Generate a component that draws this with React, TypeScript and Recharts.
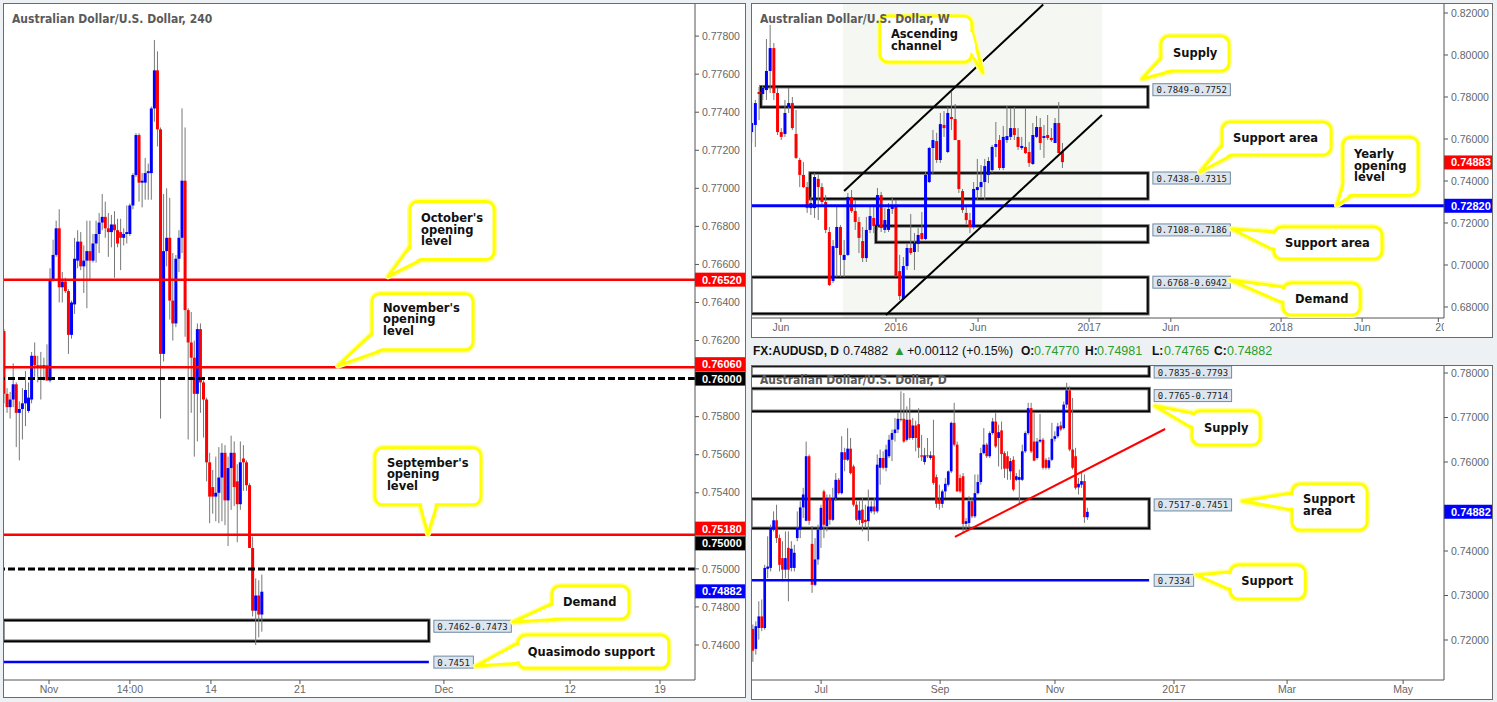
import React from "react";
import { ComposedChart, Bar, XAxis, YAxis, ReferenceLine, ReferenceArea, ReferenceDot } from "recharts";

type OHLC = [number, number, number, number];

// 4H candles: open, high, low, close
const h4Ohlc: OHLC[] = [
  [0.7625, 0.7626, 0.7587, 0.7592], [0.7592, 0.7595, 0.7582, 0.7585], [0.7585, 0.7593, 0.7579, 0.7589],
  [0.7589, 0.7608, 0.7585, 0.7597], [0.7597, 0.7598, 0.7564, 0.7582], [0.7582, 0.7588, 0.7557, 0.7584],
  [0.7584, 0.7595, 0.7568, 0.7587], [0.7587, 0.7604, 0.7575, 0.7594], [0.7583, 0.7598, 0.7582, 0.759],
  [0.7589, 0.7614, 0.7587, 0.7612], [0.7612, 0.7619, 0.7601, 0.7607], [0.7607, 0.7612, 0.7598, 0.7606],
  [0.7607, 0.7614, 0.7589, 0.7606], [0.7606, 0.7611, 0.7599, 0.7607], [0.7607, 0.7618, 0.7599, 0.7599],
  [0.7599, 0.7658, 0.7598, 0.7652], [0.7652, 0.7673, 0.7651, 0.7665], [0.7665, 0.7683, 0.7664, 0.7679],
  [0.7679, 0.7689, 0.764, 0.7648], [0.7648, 0.7656, 0.764, 0.7651], [0.7651, 0.7653, 0.7645, 0.7646],
  [0.7646, 0.7647, 0.7613, 0.7623], [0.7623, 0.7641, 0.7621, 0.764], [0.7639, 0.7674, 0.7634, 0.7663],
  [0.7662, 0.7678, 0.7658, 0.7672], [0.7672, 0.7677, 0.7657, 0.7659], [0.7659, 0.767, 0.7645, 0.7662],
  [0.7662, 0.7683, 0.7637, 0.7667], [0.7667, 0.7683, 0.7652, 0.7662], [0.7662, 0.7676, 0.7661, 0.7671],
  [0.7671, 0.7683, 0.7661, 0.7676], [0.7676, 0.7687, 0.7666, 0.7682], [0.7682, 0.7697, 0.7678, 0.7685],
  [0.7685, 0.7693, 0.7674, 0.7679], [0.7679, 0.7687, 0.7664, 0.7677], [0.7677, 0.7686, 0.7669, 0.7681],
  [0.7681, 0.7688, 0.7653, 0.7678], [0.7678, 0.7684, 0.7669, 0.7671], [0.7677, 0.7684, 0.7657, 0.7674],
  [0.7674, 0.7679, 0.767, 0.7676], [0.7676, 0.7691, 0.7671, 0.7677], [0.7676, 0.7692, 0.7675, 0.7691],
  [0.7691, 0.7708, 0.7689, 0.7707], [0.7707, 0.7729, 0.7706, 0.7728], [0.7728, 0.7729, 0.7693, 0.7703],
  [0.7703, 0.7708, 0.769, 0.7704], [0.7703, 0.7716, 0.7694, 0.7708], [0.7708, 0.7713, 0.7694, 0.7709],
  [0.7708, 0.7743, 0.7694, 0.7742], [0.7742, 0.7778, 0.7735, 0.7762], [0.7762, 0.7772, 0.7722, 0.7731],
  [0.7731, 0.7732, 0.7579, 0.7613], [0.7613, 0.7697, 0.7609, 0.7667], [0.7667, 0.77, 0.7659, 0.7674],
  [0.7674, 0.7695, 0.7631, 0.7641], [0.7641, 0.7666, 0.762, 0.7629], [0.7629, 0.7665, 0.7627, 0.7663],
  [0.7663, 0.7678, 0.7656, 0.7674], [0.7674, 0.7742, 0.7666, 0.7704], [0.7704, 0.7732, 0.7622, 0.7636],
  [0.7636, 0.7637, 0.7568, 0.7619], [0.7619, 0.7635, 0.7582, 0.7611], [0.7611, 0.762, 0.7559, 0.7592],
  [0.7592, 0.7629, 0.7567, 0.7626], [0.7626, 0.7629, 0.7582, 0.7598], [0.7598, 0.7599, 0.7569, 0.7589],
  [0.7589, 0.759, 0.7546, 0.7556], [0.7556, 0.7561, 0.7524, 0.7538], [0.7543, 0.7552, 0.7529, 0.7538],
  [0.7538, 0.7559, 0.7525, 0.754], [0.754, 0.7564, 0.7524, 0.7548], [0.7548, 0.7566, 0.7525, 0.7561],
  [0.7561, 0.7565, 0.7523, 0.7536], [0.7536, 0.7559, 0.7512, 0.7553], [0.7553, 0.757, 0.7531, 0.7561],
  [0.7561, 0.7567, 0.7533, 0.7543], [0.7546, 0.7555, 0.7514, 0.7534], [0.7534, 0.7567, 0.7531, 0.7556],
  [0.7558, 0.7565, 0.7541, 0.7556], [0.7556, 0.7557, 0.7541, 0.7544], [0.7544, 0.7545, 0.7511, 0.7511],
  [0.7511, 0.7517, 0.7475, 0.7478], [0.7478, 0.7495, 0.746, 0.7486], [0.7486, 0.7494, 0.7464, 0.7476],
  [0.7476, 0.7497, 0.7467, 0.7488],
];
const h4TickPos = [14.66, 41, 67.4, 96.4, 143.3, 184.4, 213.7];
const h4TickLabels = ["Nov", "14:00", "14", "21", "Dec", "12", "19"];
const h4PriceTicks = [0.746, 0.748, 0.75, 0.754, 0.756, 0.758, 0.762, 0.764, 0.766, 0.768, 0.77, 0.772, 0.774, 0.776, 0.778];

// weekly candles
const weeklyOhlc: OHLC[] = [
  [0.7633, 0.7776, 0.7581, 0.7676], [0.7667, 0.7786, 0.7562, 0.7771], [0.7824, 0.7848, 0.769, 0.7814],
  [0.7814, 0.7857, 0.7786, 0.7843], [0.7833, 0.8076, 0.7786, 0.7924], [0.7924, 0.8143, 0.7819, 0.8033],
  [0.8033, 0.8057, 0.7786, 0.7819], [0.7819, 0.7843, 0.7619, 0.7633], [0.7633, 0.7652, 0.7595, 0.761],
  [0.7624, 0.7786, 0.761, 0.7724], [0.7752, 0.7843, 0.7724, 0.7771], [0.7771, 0.78, 0.7643, 0.7652],
  [0.7624, 0.7738, 0.7505, 0.751], [0.75, 0.751, 0.7371, 0.7429], [0.7429, 0.749, 0.7367, 0.7371],
  [0.7371, 0.7395, 0.7248, 0.7271], [0.7271, 0.7324, 0.7238, 0.7295], [0.7271, 0.7438, 0.7224, 0.7419],
  [0.741, 0.7429, 0.7214, 0.7371], [0.7371, 0.739, 0.7276, 0.73], [0.73, 0.7333, 0.7152, 0.7167],
  [0.7157, 0.7181, 0.69, 0.6905], [0.6924, 0.7119, 0.6914, 0.709], [0.7081, 0.7276, 0.6943, 0.7181],
  [0.7181, 0.719, 0.6943, 0.7048], [0.7024, 0.7119, 0.6943, 0.7048], [0.7048, 0.7343, 0.7043, 0.7324],
  [0.7324, 0.7357, 0.7248, 0.7257], [0.7257, 0.731, 0.7167, 0.7205], [0.7205, 0.7229, 0.7057, 0.7129],
  [0.7114, 0.7181, 0.7014, 0.7033], [0.7033, 0.7229, 0.7014, 0.7167], [0.7167, 0.7286, 0.7152, 0.7233],
  [0.7224, 0.7286, 0.7152, 0.7186], [0.7186, 0.7367, 0.7167, 0.7333], [0.7333, 0.7348, 0.7157, 0.7176],
  [0.7167, 0.7271, 0.7152, 0.7214], [0.7167, 0.7295, 0.7157, 0.7267], [0.7267, 0.7324, 0.7243, 0.7276],
  [0.7281, 0.731, 0.6943, 0.6948], [0.6971, 0.7048, 0.6833, 0.6852], [0.6838, 0.7038, 0.6833, 0.6995],
  [0.6995, 0.7105, 0.6976, 0.7081], [0.7081, 0.7243, 0.7048, 0.7057], [0.7062, 0.7152, 0.6976, 0.7105],
  [0.71, 0.7176, 0.7062, 0.7143], [0.7152, 0.7252, 0.7119, 0.7124], [0.7124, 0.7443, 0.7119, 0.7429],
  [0.7395, 0.7562, 0.739, 0.7557], [0.7557, 0.7643, 0.7429, 0.7595], [0.759, 0.7629, 0.7486, 0.75],
  [0.75, 0.7724, 0.7486, 0.7671], [0.7667, 0.7733, 0.761, 0.7652], [0.7538, 0.7752, 0.7533, 0.7724],
  [0.7705, 0.7824, 0.7643, 0.7695], [0.7695, 0.7767, 0.7595, 0.7595], [0.7595, 0.7595, 0.7343, 0.7362],
  [0.7352, 0.7362, 0.7248, 0.7262], [0.7248, 0.7286, 0.7195, 0.7214], [0.7214, 0.7248, 0.7152, 0.7181],
  [0.7181, 0.7395, 0.7171, 0.7362], [0.7357, 0.7505, 0.731, 0.7371], [0.7371, 0.7476, 0.7324, 0.7395],
  [0.7395, 0.7505, 0.731, 0.7471], [0.7429, 0.7514, 0.739, 0.7495], [0.7452, 0.7571, 0.7438, 0.7562],
  [0.7562, 0.7681, 0.7514, 0.7576], [0.7595, 0.7619, 0.7452, 0.7462], [0.7462, 0.7662, 0.7452, 0.761],
  [0.7595, 0.7757, 0.7581, 0.7614], [0.761, 0.7748, 0.7595, 0.7652], [0.7652, 0.7752, 0.7595, 0.7619],
  [0.761, 0.7652, 0.7548, 0.7562], [0.7557, 0.761, 0.7548, 0.7567], [0.7562, 0.7748, 0.7529, 0.7533],
  [0.7538, 0.7586, 0.7467, 0.7486], [0.7481, 0.7676, 0.7476, 0.7619], [0.761, 0.771, 0.7605, 0.7657],
  [0.7657, 0.77, 0.7548, 0.7581], [0.7605, 0.7667, 0.751, 0.7614], [0.7619, 0.7714, 0.7595, 0.7605],
  [0.7605, 0.7652, 0.7586, 0.7595], [0.7581, 0.77, 0.7581, 0.7676], [0.7676, 0.7776, 0.7533, 0.7533],
  [0.7538, 0.7581, 0.7462, 0.749],
];
const weeklyTickPos = [7.8, 38.9, 61.1, 91.1, 113.2, 143, 164.9, 185.5];
const weeklyTickLabels = ["Jun", "2016", "Jun", "2017", "Jun", "2018", "Jun", "2019"];
const weeklyPriceTicks = [0.68, 0.7, 0.72, 0.74, 0.76, 0.78, 0.8, 0.82];

// daily candles
const dailyOhlc: OHLC[] = [
  [0.7225, 0.7235, 0.7151, 0.7176], [0.718, 0.7242, 0.7167, 0.7231], [0.7227, 0.7287, 0.7201, 0.7253],
  [0.7253, 0.7291, 0.722, 0.7227], [0.7227, 0.7369, 0.7223, 0.7362], [0.736, 0.7433, 0.7339, 0.7365],
  [0.7362, 0.7459, 0.7354, 0.7452], [0.7448, 0.7489, 0.7444, 0.7469], [0.7469, 0.7504, 0.7418, 0.7429],
  [0.7429, 0.7437, 0.7354, 0.7369], [0.7384, 0.7422, 0.7332, 0.7358], [0.7358, 0.7444, 0.7339, 0.7384],
  [0.7407, 0.7444, 0.7287, 0.7358], [0.7362, 0.7422, 0.7354, 0.7405], [0.7362, 0.7414, 0.7354, 0.7396],
  [0.7429, 0.7489, 0.7422, 0.7452], [0.7448, 0.7512, 0.7429, 0.7498], [0.7498, 0.7542, 0.7474, 0.7527],
  [0.7468, 0.7646, 0.7467, 0.7613], [0.7613, 0.7617, 0.7459, 0.7468], [0.7416, 0.7456, 0.7306, 0.7324],
  [0.7324, 0.7429, 0.7321, 0.7381], [0.7381, 0.7459, 0.7369, 0.7448], [0.7448, 0.7504, 0.7407, 0.7497],
  [0.7534, 0.7538, 0.7429, 0.7459], [0.7456, 0.7527, 0.7444, 0.7519], [0.7519, 0.7527, 0.7459, 0.747],
  [0.747, 0.7542, 0.7467, 0.7519], [0.7519, 0.7575, 0.7512, 0.756], [0.756, 0.7564, 0.7527, 0.753],
  [0.753, 0.7658, 0.7527, 0.7622], [0.7622, 0.7632, 0.7579, 0.7605], [0.7605, 0.7676, 0.7602, 0.763],
  [0.763, 0.7654, 0.7572, 0.7575], [0.759, 0.7594, 0.75, 0.7504], [0.7504, 0.7512, 0.7467, 0.747],
  [0.747, 0.7512, 0.7459, 0.7491], [0.7493, 0.7519, 0.7444, 0.7463], [0.747, 0.7504, 0.7452, 0.7465],
  [0.7467, 0.7538, 0.7422, 0.75], [0.7489, 0.7512, 0.7485, 0.75], [0.75, 0.7519, 0.7482, 0.7489],
  [0.7489, 0.7617, 0.7485, 0.7594], [0.7587, 0.7628, 0.7549, 0.7609], [0.7609, 0.7624, 0.7583, 0.7587],
  [0.7587, 0.7639, 0.7579, 0.7628], [0.7613, 0.7661, 0.7609, 0.765], [0.765, 0.7673, 0.7602, 0.7665],
  [0.7665, 0.7699, 0.7646, 0.7673], [0.7673, 0.771, 0.7665, 0.7697], [0.7697, 0.7759, 0.7691, 0.7695],
  [0.7697, 0.7755, 0.7643, 0.7646], [0.765, 0.7725, 0.7646, 0.7695], [0.7695, 0.7744, 0.765, 0.7654],
  [0.7654, 0.7699, 0.765, 0.7682], [0.7682, 0.7693, 0.7624, 0.7654], [0.7685, 0.7721, 0.7609, 0.7632],
  [0.7615, 0.7661, 0.7602, 0.7612], [0.76, 0.7632, 0.7594, 0.7615], [0.7615, 0.7654, 0.7609, 0.7613],
  [0.7609, 0.7624, 0.7605, 0.7615], [0.7615, 0.7695, 0.7549, 0.7553], [0.7566, 0.7572, 0.7497, 0.7506],
  [0.7515, 0.7549, 0.7493, 0.7506], [0.7506, 0.7538, 0.7497, 0.7534], [0.7534, 0.7564, 0.7519, 0.7551],
  [0.7549, 0.7581, 0.7545, 0.7579], [0.7579, 0.7691, 0.7575, 0.7688], [0.7688, 0.7733, 0.7635, 0.7639],
  [0.7639, 0.7646, 0.7533, 0.7534], [0.7564, 0.7572, 0.753, 0.7534], [0.7568, 0.7575, 0.744, 0.7461],
  [0.7461, 0.7474, 0.7448, 0.7467], [0.7463, 0.7523, 0.7452, 0.7512], [0.7512, 0.7519, 0.7474, 0.7478],
  [0.7478, 0.7572, 0.7474, 0.753], [0.753, 0.7572, 0.7527, 0.7555], [0.7555, 0.7632, 0.7549, 0.762],
  [0.762, 0.7676, 0.7617, 0.7639], [0.7639, 0.7643, 0.7609, 0.7613], [0.7613, 0.7669, 0.7609, 0.7665],
  [0.7665, 0.7699, 0.7661, 0.7691], [0.7691, 0.771, 0.7632, 0.7635], [0.7654, 0.7684, 0.759, 0.7667],
  [0.7671, 0.7691, 0.7583, 0.7618], [0.762, 0.7624, 0.7564, 0.7585], [0.7613, 0.7624, 0.756, 0.7585],
  [0.7579, 0.7609, 0.756, 0.7602], [0.7605, 0.7613, 0.7534, 0.7538], [0.756, 0.7575, 0.7557, 0.7568],
  [0.756, 0.7583, 0.7504, 0.7566], [0.756, 0.7639, 0.7557, 0.7624], [0.7624, 0.7669, 0.762, 0.7665],
  [0.7665, 0.7733, 0.7661, 0.7721], [0.7721, 0.7733, 0.762, 0.7624], [0.7646, 0.771, 0.7602, 0.7603],
  [0.7609, 0.7654, 0.7605, 0.7646], [0.7646, 0.7708, 0.7643, 0.765], [0.765, 0.7654, 0.7583, 0.7587],
  [0.7605, 0.7609, 0.7583, 0.7587], [0.7587, 0.7611, 0.7583, 0.7604], [0.7605, 0.7688, 0.7602, 0.7652],
  [0.7652, 0.7669, 0.7646, 0.7658], [0.7658, 0.7688, 0.7654, 0.768], [0.7682, 0.7691, 0.7669, 0.7673],
  [0.7676, 0.7736, 0.7673, 0.7729], [0.7729, 0.7778, 0.7721, 0.7761], [0.7761, 0.777, 0.7624, 0.7628],
  [0.7628, 0.7744, 0.7583, 0.7587], [0.7613, 0.7632, 0.7538, 0.7542], [0.7543, 0.7564, 0.7527, 0.7551],
  [0.7549, 0.7579, 0.7542, 0.7557], [0.7557, 0.7572, 0.7463, 0.7476], [0.7476, 0.7497, 0.747, 0.7488],
];
const dailyTickPos = [23, 63.2, 102, 142.2, 180.4, 219.6];
const dailyTickLabels = ["Jul", "Sep", "Nov", "2017", "Mar", "May"];
const dailyPriceTicks = [0.72, 0.73, 0.74, 0.76, 0.77, 0.78];

const toRows = (ohlc: OHLC[]) => ohlc.map(([o, h, l, c], i) => ({ i, o, h, l, c, range: [l, h] }));
const h4Rows = toRows(h4Ohlc);
const weeklyRows = toRows(weeklyOhlc);
const dailyRows = toRows(dailyOhlc);

const SANS = "'Liberation Sans', Arial, sans-serif";
const NOTE_FONT = "'DejaVu Sans', Verdana, sans-serif";
const TAG_FONT = "'DejaVu Sans Mono', monospace";
const TITLE_FONT = "'Liberation Sans Narrow', 'DejaVu Sans Condensed', sans-serif";
const M0 = { top: 0, right: 0, bottom: 0, left: 0 };
const AX = { stroke: "#555" };
const Y_TICK = { fill: "#666", fontSize: 10.5, fontFamily: SANS };
const fmt5 = (v: number) => v.toFixed(5);

const CandleShape = (props: any) => {
  const { x, y, width, height, payload } = props;
  if (!payload || x == null) return <g />;
  const { o, h, l, c } = payload;
  const top = Math.min(y, y + height);
  const span = Math.abs(height);
  const k = h - l > 0 ? span / (h - l) : 0;
  const yO = top + (h - o) * k;
  const yC = top + (h - c) * k;
  const mid = x + width / 2;
  return (
    <g>
      <line x1={mid} x2={mid} y1={top} y2={top + span} stroke="#777" strokeWidth={1} />
      <rect x={x} y={Math.min(yO, yC)} width={width} height={Math.max(1, Math.abs(yO - yC))} fill={c >= o ? "#0000ff" : "#ff0000"} />
    </g>
  );
};

function Tag({ x, y, text }: { x: number; y: number; text: string }) {
  const w = text.length * 5.42 + 7;
  return (
    <g>
      <rect x={x} y={y} width={w} height={12} fill="#dde6ee" stroke="#6f8ba3" strokeWidth={1} />
      <text x={x + 3.5} y={y + 9.5} fontFamily={TAG_FONT} fontSize={9} fill="#222">{text}</text>
    </g>
  );
}

const badge = (text: string, bg: string, dy = 0) => (props: any) => {
  const vb = props.viewBox || {};
  const x = vb.x + vb.width;
  const y = vb.y + dy;
  return (
    <g>
      <rect x={x} y={y - 7} width={51} height={14} fill={bg} />
      <text x={x + 7} y={y + 4} fontFamily={SANS} fontSize={11} fontWeight="bold" fill="#fff">{text}</text>
    </g>
  );
};

const lineTag = (text: string) => (props: any) => {
  const vb = props.viewBox || {};
  return <Tag x={vb.x + vb.width + 5} y={vb.y - 6} text={text} />;
};

const zoneShape = (tag: string, dy: number) => (p: any) => {
  const x = Math.min(p.x, p.x + p.width);
  const w = Math.abs(p.width);
  const yA = Math.min(p.y, p.y + p.height);
  const yB = Math.max(p.y, p.y + p.height);
  const top = Math.max(yA, 1);
  return (
    <g>
      <rect x={x} y={top} width={w} height={yB - top} fill="none" stroke="#777" strokeWidth={3.5} />
      <rect x={x} y={top} width={w} height={yB - top} fill="none" stroke="#000" strokeWidth={1.6} />
      <Tag x={x + w + 5} y={top + dy} text={tag} />
    </g>
  );
};

type Note = { lines: string[]; at: [number, number]; box: number[]; base: number[]; text: [number, number]; lh?: number };

const step = (ax: number, ay: number, bx: number, by: number, d: number) => {
  const len = Math.hypot(bx - ax, by - ay) || 1;
  return [ax + ((bx - ax) / len) * d, ay + ((by - ay) / len) * d];
};

const calloutShape = (n: Note) => (p: any) => {
  const tx = p.cx, ty = p.cy;
  if (tx == null || ty == null) return <g />;
  const bx = tx + n.box[0], by = ty + n.box[1], bw = n.box[2], bh = n.box[3];
  const b1x = tx + n.base[0], b1y = ty + n.base[1], b2x = tx + n.base[2], b2y = ty + n.base[3];
  const tri = `${b1x},${b1y} ${tx},${ty} ${b2x},${b2y}`;
  const mx = (b1x + b2x) / 2, my = (b1y + b2y) / 2;
  const nl = Math.hypot(bx + bw / 2 - mx, by + bh / 2 - my) || 1;
  const nx = (bx + bw / 2 - mx) / nl, ny = (by + bh / 2 - my) / nl;
  const e1 = step(b1x, b1y, b2x, b2y, 2.2);
  const e2 = step(b2x, b2y, b1x, b1y, 2.2);
  const q1 = [b1x + (tx - b1x) * 0.3, b1y + (ty - b1y) * 0.3];
  const q2 = [b2x + (tx - b2x) * 0.3, b2y + (ty - b2y) * 0.3];
  const f1 = step(q1[0], q1[1], q2[0], q2[1], 2.2);
  const f2 = step(q2[0], q2[1], q1[0], q1[1], 2.2);
  const eraser = [[e1[0] + nx * 5, e1[1] + ny * 5], e1, f1, f2, e2, [e2[0] + nx * 5, e2[1] + ny * 5]]
    .map((q) => `${q[0]},${q[1]}`).join(" ");
  const lh = n.lh ?? 11.5;
  return (
    <g>
      <polygon points={tri} fill="none" stroke="#ffffa0" strokeWidth={6} strokeLinejoin="round" />
      <rect x={bx} y={by} width={bw} height={bh} rx={8} fill="none" stroke="#ffffa0" strokeWidth={6} />
      <polygon points={tri} fill="#fff" stroke="#ffff00" strokeWidth={3} strokeLinejoin="round" />
      <rect x={bx} y={by} width={bw} height={bh} rx={8} fill="#fff" stroke="#ffff00" strokeWidth={3} />
      <polygon points={eraser} fill="#fff" />
      <text x={bx + n.text[0]} y={by + n.text[1]} fontFamily={NOTE_FONT} fontSize={11.5} fontWeight="bold" fill="#111">
        {n.lines.map((s, k) => (
          <tspan key={k} x={bx + n.text[0]} dy={k === 0 ? 0 : lh}>{s}</tspan>
        ))}
      </text>
    </g>
  );
};

const xTick = (pos: number[], labels: string[], clipAt?: number) => (p: any) => {
  const k = pos.indexOf(p.payload?.value);
  const label = k >= 0 ? labels[k] : "";
  if (clipAt != null && p.x + 10 > clipAt) {
    const left = p.x - 3;
    return (
      <svg x={left} y={p.y - 2} width={Math.max(0, clipAt - left)} height={16} overflow="hidden">
        <text x={0} y={2} dy="0.71em" fill="#666" fontSize={10.5} fontFamily={SANS}>{label}</text>
      </svg>
    );
  }
  return (
    <text x={p.x} y={p.y} dy="0.71em" textAnchor="middle" fill="#666" fontSize={10.5} fontFamily={SANS}>{label}</text>
  );
};

const h4Notes: Note[] = [
  { lines: ["October's", "opening", "level"], at: [125.1, 0.76537], box: [22, -75, 84, 58], base: [22, -30, 34, -17], text: [11, 21] },
  { lines: ["November's", "opening", "level"], at: [108.8, 0.76068], box: [34, -72, 101, 56], base: [34, -32, 46, -16], text: [11, 18] },
  { lines: ["September's", "opening", "level"], at: [138.1, 0.75184], box: [-53, -86, 106, 57], base: [-8, -29, 9, -29], text: [12, 19] },
  { lines: ["Demand"], at: [165.8, 0.74721], box: [39, -36, 77, 33], base: [39, -18, 49, -3], text: [11, 20] },
  { lines: ["Quasimodo support"], at: [153.7, 0.74489], box: [42, -31, 151, 33], base: [42, -23, 45, -3], text: [10, 21] },
];
const weeklyNotes: Note[] = [
  { lines: ["Ascending", "channel"], at: [62.4, 0.79143], box: [-103, -57, 92, 46], base: [-11, -43, -11, -18], text: [11, 22], lh: 12 },
  { lines: ["Supply"], at: [105.4, 0.78857], box: [19, -43, 68, 35], base: [19, -21, 30, -8], text: [12, 21] },
  { lines: ["Support area"], at: [121.1, 0.74429], box: [22, -50, 109, 33], base: [22, -27, 32, -17], text: [11, 20] },
  { lines: ["Yearly", "opening", "level"], at: [158.1, 0.7285], box: [6, -68, 75, 58], base: [6, -21, 15, -10], text: [11, 21] },
  { lines: ["Support area"], at: [129.7, 0.71714], box: [42, -2, 108, 32], base: [42, 3, 42, 21], text: [11, 20] },
  { lines: ["Demand"], at: [129.2, 0.69286], box: [53, 3, 77, 32], base: [53, 7, 53, 23], text: [12, 20] },
];
const dailyNotes: Note[] = [
  { lines: ["Supply"], at: [135.8, 0.77258], box: [37, 5, 68, 34], base: [37, 7, 37, 22], text: [12, 21] },
  { lines: ["Support", "area"], at: [165.2, 0.75124], box: [50, -17, 75, 46], base: [50, -8, 50, 9], text: [11, 19], lh: 12 },
  { lines: ["Support"], at: [149.7, 0.73461], box: [34, -10, 75, 34], base: [34, -3, 34, 15], text: [11, 20] },
];

const weeklyZones = [
  { lo: 0.7752, hi: 0.7849, x1: 2.4, tag: "0.7849-0.7752", dy: -3 },
  { lo: 0.7315, hi: 0.7438, x1: 15.7, tag: "0.7438-0.7315", dy: -1 },
  { lo: 0.7108, hi: 0.7186, x1: 33.5, tag: "0.7108-0.7186", dy: -2 },
  { lo: 0.6768, hi: 0.6942, x1: -0.27, tag: "0.6768-0.6942", dy: -1 },
];
const dailyZones = [
  { lo: 0.7793, hi: 0.7835, tag: "0.7835-0.7793", dy: 0 },
  { lo: 0.7714, hi: 0.7765, tag: "0.7765-0.7714", dy: 1 },
  { lo: 0.7451, hi: 0.7517, tag: "0.7517-0.7451", dy: 0 },
];

const titleStyle = (left: number, top: number): React.CSSProperties => ({
  position: "absolute", left, top, fontFamily: TITLE_FONT, fontWeight: "bold", fontSize: 12, lineHeight: "13px",
  color: "#5a5a5a", whiteSpace: "nowrap",
});
const frame = (left: number, top: number, width: number, height: number): React.CSSProperties => ({
  position: "absolute", left, top, width, height, border: "1px solid #6b6b6b", boxSizing: "border-box", pointerEvents: "none",
});
const hdr = (left: number, color: string, bold = false): React.CSSProperties => ({
  position: "absolute", left, top: 343, fontFamily: SANS, fontSize: bold ? 12 : 12.5, lineHeight: "16px",
  fontWeight: bold ? "bold" : "normal", color, whiteSpace: "nowrap",
});
const GREEN = "#2a9d2a";

export default function App() {
  return (
    <div style={{ position: "absolute", left: 0, top: 0, width: 1497, height: 702, background: "#eef1f4", overflow: "hidden" }}>
      {/* 4H chart */}
      <div style={{ position: "absolute", left: 3, top: 3, width: 743, height: 695, background: "#fff" }} />
      <div style={{ position: "absolute", left: 3, top: 3 }}>
        <ComposedChart width={742} height={695} data={h4Rows} margin={M0}>
          <XAxis type="number" dataKey="i" domain={[-0.33, 225.1]} allowDataOverflow ticks={h4TickPos} interval={0}
            height={18} tickSize={4} tickMargin={2} axisLine={AX} tickLine={AX} tick={xTick(h4TickPos, h4TickLabels)} />
          <YAxis orientation="right" type="number" domain={[0.74416, 0.77974]} allowDataOverflow ticks={h4PriceTicks}
            interval={0} width={50} tickSize={4} tickMargin={3} axisLine={AX} tickLine={AX} tick={Y_TICK} tickFormatter={fmt5} />
          <Bar dataKey="range" barSize={3} shape={CandleShape} isAnimationActive={false} />
          <ReferenceArea x1={-0.33} x2={138.4} y1={0.7462} y2={0.7473} ifOverflow="hidden" shape={zoneShape("0.7462-0.7473", 0)} />
          <ReferenceLine segment={[{ x: -0.33, y: 0.7451 }, { x: 138.4, y: 0.7451 }]} stroke="#0000ff" strokeWidth={2.5} label={lineTag("0.7451")} />
          <ReferenceLine y={0.7652} stroke="#ff0000" strokeWidth={2.5} label={badge("0.76520", "#ff0000")} />
          <ReferenceLine y={0.7606} stroke="#ff0000" strokeWidth={2.5} label={badge("0.76060", "#ff0000", -3)} />
          <ReferenceLine y={0.76} stroke="#000" strokeWidth={3} strokeDasharray="7 3" label={badge("0.76000", "#000")} />
          <ReferenceLine y={0.7518} stroke="#ff0000" strokeWidth={2.5} label={badge("0.75180", "#ff0000", -6)} />
          <ReferenceLine y={0.75} stroke="#000" strokeWidth={3} strokeDasharray="7 3" label={badge("0.75000", "#000", -25.5)} />
          <ReferenceLine y={0.74882} stroke="none" label={badge("0.74882", "#0000ff")} />
          {h4Notes.map((n, k) => (
            <ReferenceDot key={k} x={n.at[0]} y={n.at[1]} r={0} shape={calloutShape(n)} />
          ))}
        </ComposedChart>
      </div>
      <div style={frame(3, 3, 743, 695)} />
      <div style={titleStyle(12, 13)}>Australian Dollar/U.S. Dollar, 240</div>

      {/* Weekly chart */}
      <div style={{ position: "absolute", left: 751, top: 3, width: 742, height: 335, background: "#fff" }} />
      <div style={{ position: "absolute", left: 751, top: 3 }}>
        <ComposedChart width={742} height={335} data={weeklyRows} margin={M0}>
          <XAxis type="number" dataKey="i" domain={[-0.27, 187.03]} allowDataOverflow ticks={weeklyTickPos} interval={0}
            height={20} tickSize={4} tickMargin={2} axisLine={AX} tickLine={AX} tick={xTick(weeklyTickPos, weeklyTickLabels, 693)} />
          <YAxis orientation="right" type="number" domain={[0.67476, 0.82476]} allowDataOverflow ticks={weeklyPriceTicks}
            interval={0} width={49} tickSize={4} tickMargin={3} axisLine={AX} tickLine={AX} tick={Y_TICK} tickFormatter={fmt5} />
          <ReferenceArea x1={24.6} x2={94.6} fill="#f5f7f3" fillOpacity={1} ifOverflow="hidden" />
          <Bar dataKey="range" barSize={3} shape={CandleShape} isAnimationActive={false} />
          {weeklyZones.map((z, k) => (
            <ReferenceArea key={k} x1={z.x1} x2={107} y1={z.lo} y2={z.hi} ifOverflow="hidden" shape={zoneShape(z.tag, z.dy)} />
          ))}
          <ReferenceLine y={0.7282} stroke="#0000ff" strokeWidth={3} label={badge("0.72820", "#0000ff")} />
          <ReferenceLine y={0.74883} stroke="none" label={badge("0.74883", "#ff0000")} />
          <ReferenceLine segment={[{ x: 24.9, y: 0.7352 }, { x: 78.7, y: 0.824 }]} stroke="#000" strokeWidth={2} />
          <ReferenceLine segment={[{ x: 36.2, y: 0.6762 }, { x: 94.6, y: 0.7714 }]} stroke="#000" strokeWidth={2} />
          {weeklyNotes.map((n, k) => (
            <ReferenceDot key={k} x={n.at[0]} y={n.at[1]} r={0} shape={calloutShape(n)} />
          ))}
        </ComposedChart>
      </div>
      <div style={frame(751, 3, 742, 335)} />
      <div style={titleStyle(760, 13)}>Australian Dollar/U.S. Dollar, W</div>

      {/* Daily header */}
      <div style={hdr(753, "#111", true)}>FX:AUDUSD, D</div>
      <div style={hdr(843, "#111")}>0.74882</div>
      <div style={{ ...hdr(893, GREEN), fontSize: 13 }}>▲</div>
      <div style={hdr(907, "#111")}>+0.00112 (+0.15%)</div>
      <div style={hdr(1021, "#111", true)}>O:</div>
      <div style={hdr(1034, GREEN)}>0.74770</div>
      <div style={hdr(1085, "#111", true)}>H:</div>
      <div style={hdr(1097, GREEN)}>0.74981</div>
      <div style={hdr(1152, "#111", true)}>L:</div>
      <div style={hdr(1164, GREEN)}>0.74765</div>
      <div style={hdr(1214, "#111", true)}>C:</div>
      <div style={hdr(1227, GREEN)}>0.74882</div>

      {/* Daily chart */}
      <div style={{ position: "absolute", left: 751, top: 365, width: 742, height: 335, background: "#fff" }} />
      <div style={{ position: "absolute", left: 751, top: 365 }}>
        <ComposedChart width={742} height={335} data={dailyRows} margin={M0}>
          <XAxis type="number" dataKey="i" domain={[-0.68, 233.4]} allowDataOverflow ticks={dailyTickPos} interval={0}
            height={20} tickSize={4} tickMargin={2} axisLine={AX} tickLine={AX} tick={xTick(dailyTickPos, dailyTickLabels)} />
          <YAxis orientation="right" type="number" domain={[0.71101, 0.7818]} allowDataOverflow ticks={dailyPriceTicks}
            interval={0} width={49} tickSize={4} tickMargin={3} axisLine={AX} tickLine={AX} tick={Y_TICK} tickFormatter={fmt5} />
          <Bar dataKey="range" barSize={3} shape={CandleShape} isAnimationActive={false} />
          {dailyZones.map((z, k) => (
            <ReferenceArea key={k} x1={-0.68} x2={133.8} y1={z.lo} y2={z.hi} ifOverflow="hidden" shape={zoneShape(z.tag, z.dy)} />
          ))}
          <ReferenceLine segment={[{ x: -0.68, y: 0.7334 }, { x: 133.8, y: 0.7334 }]} stroke="#0000ff" strokeWidth={2.5} label={lineTag("0.7334")} />
          <ReferenceLine segment={[{ x: 68.2, y: 0.74315 }, { x: 139.2, y: 0.76742 }]} stroke="#ff0000" strokeWidth={2} />
          <ReferenceLine y={0.74882} stroke="none" label={badge("0.74882", "#0000ff")} />
          {dailyNotes.map((n, k) => (
            <ReferenceDot key={k} x={n.at[0]} y={n.at[1]} r={0} shape={calloutShape(n)} />
          ))}
        </ComposedChart>
      </div>
      <div style={frame(751, 365, 742, 335)} />
      <div style={titleStyle(760, 374)}>Australian Dollar/U.S. Dollar, D</div>
    </div>
  );
}
